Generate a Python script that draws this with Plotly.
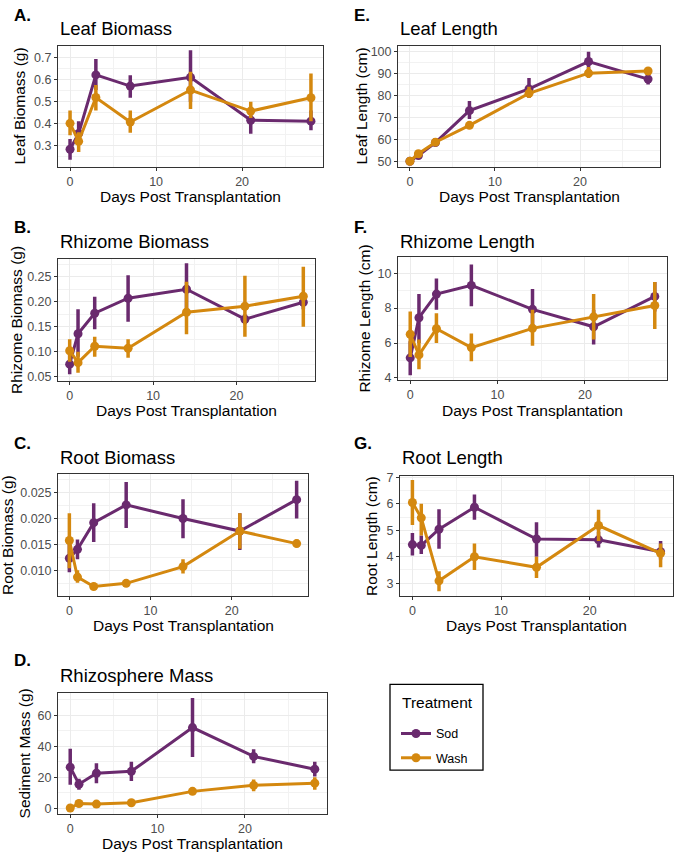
import plotly.graph_objects as go

W, H = 675, 859
FONT = "Liberation Sans, Arial, sans-serif"
SOD_COLOR = "#6a2a6e"
WASH_COLOR = "#d4880f"

days = [0, 1, 3, 7, 14, 21, 28]

# A. Leaf Biomass (g)
leafmass_sod = [0.283, 0.355, 0.622, 0.571, 0.611, 0.415, 0.411]
leafmass_sod_lo = [0.235, 0.31, 0.553, 0.518, 0.50, 0.354, 0.37]
leafmass_sod_hi = [0.33, 0.41, 0.695, 0.62, 0.735, 0.46, 0.46]
leafmass_wash = [0.401, 0.319, 0.519, 0.407, 0.553, 0.457, 0.518]
leafmass_wash_lo = [0.347, 0.27, 0.46, 0.358, 0.466, 0.425, 0.41]
leafmass_wash_hi = [0.46, 0.36, 0.576, 0.46, 0.636, 0.5, 0.628]

# B. Rhizome Biomass (g)
rhizmass_sod = [0.075, 0.136, 0.177, 0.207, 0.225, 0.165, 0.199]
rhizmass_sod_lo = [0.055, 0.09, 0.145, 0.16, 0.175, 0.155, 0.185]
rhizmass_sod_hi = [0.095, 0.185, 0.21, 0.253, 0.277, 0.175, 0.213]
rhizmass_wash = [0.102, 0.078, 0.111, 0.107, 0.179, 0.191, 0.211]
rhizmass_wash_lo = [0.08, 0.058, 0.09, 0.088, 0.135, 0.13, 0.15]
rhizmass_wash_hi = [0.125, 0.1, 0.13, 0.125, 0.24, 0.252, 0.27]

# C. Root Biomass (g)
rootmass_sod = [0.0124, 0.0141, 0.0192, 0.0226, 0.0200, 0.0176, 0.0236]
rootmass_sod_lo = [0.0097, 0.0122, 0.0155, 0.0182, 0.0162, 0.0140, 0.0200]
rootmass_sod_hi = [0.0151, 0.0160, 0.0229, 0.0270, 0.0237, 0.0210, 0.0272]
rootmass_wash = [0.0158, 0.0088, 0.0070, 0.0076, 0.0108, 0.0176, 0.0152]
rootmass_wash_lo = [0.0105, 0.0077, 0.0065, 0.0070, 0.0095, 0.0142, 0.0145]
rootmass_wash_hi = [0.0210, 0.0101, 0.0075, 0.0082, 0.0122, 0.0210, 0.0160]

# D. Rhizosphere / Sediment Mass (g)
sedmass_sod = [26.5, 15.5, 22.6, 23.8, 52.0, 33.4, 25.2]
sedmass_sod_lo = [15.2, 12.0, 16.2, 17.5, 33.0, 29.0, 20.5]
sedmass_sod_hi = [38.3, 19.0, 29.0, 30.0, 71.0, 38.0, 30.0]
sedmass_wash = [0.2, 3.1, 2.7, 3.6, 10.9, 14.8, 16.2]
sedmass_wash_lo = [0.0, 2.3, 2.0, 2.8, 9.5, 11.0, 12.0]
sedmass_wash_hi = [0.4, 3.9, 3.4, 4.4, 12.2, 18.5, 20.0]

# E. Leaf Length (cm)
leaflen_sod = [50.0, 52.6, 58.5, 73.1, 83.0, 95.5, 87.5]
leaflen_sod_lo = [49.5, 51.5, 57.5, 69.3, 79.0, 91.0, 85.0]
leaflen_sod_hi = [50.5, 53.7, 59.5, 77.5, 88.0, 100.0, 90.0]
leaflen_wash = [50.0, 53.4, 58.7, 66.4, 81.0, 90.2, 91.2]
leaflen_wash_lo = [49.6, 52.6, 57.9, 65.6, 79.0, 88.0, 89.5]
leaflen_wash_hi = [50.4, 54.2, 59.5, 67.2, 84.0, 93.0, 92.8]

# F. Rhizome Length (cm)
rhizlen_sod = [5.15, 7.45, 8.8, 9.3, 7.93, 6.93, 8.67]
rhizlen_sod_lo = [4.15, 6.0, 7.9, 8.1, 6.8, 5.92, 7.8]
rhizlen_sod_hi = [6.1, 8.8, 9.7, 10.5, 9.1, 7.9, 9.5]
rhizlen_wash = [6.5, 5.32, 6.82, 5.74, 6.84, 7.5, 8.15]
rhizlen_wash_lo = [5.2, 4.5, 6.0, 4.95, 5.85, 6.2, 6.8]
rhizlen_wash_hi = [7.8, 6.2, 7.7, 6.55, 7.9, 8.8, 9.5]

# G. Root Length (cm)
rootlen_sod = [4.46, 4.43, 5.04, 5.87, 4.67, 4.64, 4.19]
rootlen_sod_lo = [4.05, 4.1, 4.3, 5.4, 4.0, 4.35, 3.9]
rootlen_sod_hi = [4.9, 4.8, 5.8, 6.35, 5.3, 4.95, 4.6]
rootlen_wash = [6.05, 5.47, 3.09, 4.0, 3.6, 5.18, 4.13]
rootlen_wash_lo = [5.2, 4.8, 2.7, 3.5, 3.2, 4.6, 3.6]
rootlen_wash_hi = [6.9, 6.0, 3.45, 4.5, 4.0, 5.78, 4.5]

x_ticks = [0, 10, 20]
x_minor = [5, 15, 25]
x_title = "Days Post Transplantation"
legend_title = "Treatment"
group_names = ["Sod", "Wash"]


def px(x):
    return x / W


def py(y):
    return 1 - y / H


panels = [
    dict(letter="A.", title="Leaf Biomass", ytitle="Leaf Biomass (g)",
         sod=(leafmass_sod, leafmass_sod_lo, leafmass_sod_hi),
         wash=(leafmass_wash, leafmass_wash_lo, leafmass_wash_hi),
         box=(58, 323, 41, 163), yr=[0.203, 0.752],
         yt=[0.3, 0.4, 0.5, 0.6, 0.7], ym=[0.25, 0.35, 0.45, 0.55, 0.65, 0.75],
         fmt=".1f", ytx=20, letter_pos=(12, 10), title_y=23, xt_y=193),
    dict(letter="B.", title="Rhizome Biomass", ytitle="Rhizome Biomass (g)",
         sod=(rhizmass_sod, rhizmass_sod_lo, rhizmass_sod_hi),
         wash=(rhizmass_wash, rhizmass_wash_lo, rhizmass_wash_hi),
         box=(58, 315, 257, 380), yr=[0.042, 0.2846],
         yt=[0.05, 0.10, 0.15, 0.20, 0.25], ym=[0.075, 0.125, 0.175, 0.225, 0.275],
         fmt=".2f", ytx=16, letter_pos=(12, 225), title_y=239, xt_y=410),
    dict(letter="C.", title="Root Biomass", ytitle="Root Biomass (g)",
         sod=(rootmass_sod, rootmass_sod_lo, rootmass_sod_hi),
         wash=(rootmass_wash, rootmass_wash_lo, rootmass_wash_hi),
         box=(58, 308, 475, 598), yr=[0.00525, 0.02844],
         yt=[0.010, 0.015, 0.020, 0.025], ym=[0.0075, 0.0125, 0.0175, 0.0225, 0.0275],
         fmt=".3f", ytx=7, letter_pos=(12, 444), title_y=458, xt_y=628),
    dict(letter="D.", title="Rhizosphere Mass", ytitle="Sediment Mass (g)",
         sod=(sedmass_sod, sedmass_sod_lo, sedmass_sod_hi),
         wash=(sedmass_wash, sedmass_wash_lo, sedmass_wash_hi),
         box=(58, 327, 697, 819), yr=[-3.4, 74.1],
         yt=[0, 20, 40, 60], ym=[10, 30, 50, 70],
         fmt="d", ytx=24, letter_pos=(12, 664), title_y=679, xt_y=849),
    dict(letter="E.", title="Leaf Length", ytitle="Leaf Length (cm)",
         sod=(leaflen_sod, leaflen_sod_lo, leaflen_sod_hi),
         wash=(leaflen_wash, leaflen_wash_lo, leaflen_wash_hi),
         box=(398, 660, 41, 163), yr=[47.5, 102.4],
         yt=[50, 60, 70, 80, 90, 100], ym=[55, 65, 75, 85, 95],
         fmt="d", ytx=362, letter_pos=(352, 10), title_y=23, xt_y=193),
    dict(letter="F.", title="Rhizome Length", ytitle="Rhizome Length (cm)",
         sod=(rhizlen_sod, rhizlen_sod_lo, rhizlen_sod_hi),
         wash=(rhizlen_wash, rhizlen_wash_lo, rhizlen_wash_hi),
         box=(398, 667, 255, 379), yr=[3.9, 10.9],
         yt=[4, 6, 8, 10], ym=[5, 7, 9],
         fmt="d", ytx=365, letter_pos=(352, 225), title_y=239, xt_y=410),
    dict(letter="G.", title="Root Length", ytitle="Root Length (cm)",
         sod=(rootlen_sod, rootlen_sod_lo, rootlen_sod_hi),
         wash=(rootlen_wash, rootlen_wash_lo, rootlen_wash_hi),
         box=(400, 673, 477, 598), yr=[2.53, 7.04],
         yt=[3, 4, 5, 6, 7], ym=[3.5, 4.5, 5.5, 6.5],
         fmt="d", ytx=372, letter_pos=(352, 444), title_y=458, xt_y=628),
]

fig = go.Figure()
annotations = []
GRID = "#ebebeb"
BORDER = "#333333"
TICKFONT = dict(family=FONT, size=12.5, color="#4d4d4d")

for i, p in enumerate(panels):
    k = "" if i == 0 else str(i + 1)
    xa, ya = "x" + k, "y" + k
    x0, x1, y0, y1 = p["box"]
    common = dict(showline=True, linecolor=BORDER, linewidth=1, mirror=True,
                  ticks="outside", ticklen=3, tickcolor=BORDER, tickwidth=1,
                  showgrid=True, gridcolor=GRID, gridwidth=1, zeroline=False,
                  tickfont=TICKFONT)
    fig.layout["xaxis" + k] = dict(
        domain=[px(x0), px(x1)], anchor=ya, range=[-1.4, 29.4],
        tickmode="array", tickvals=x_ticks,
        minor=dict(tickvals=x_minor, showgrid=True, gridcolor="#f2f2f2", gridwidth=0.6, ticks=""),
        **common)
    ydict = dict(
        domain=[py(y1), py(y0)], anchor=xa, range=p["yr"],
        tickmode="array", tickvals=p["yt"],
        minor=dict(tickvals=p["ym"], showgrid=True, gridcolor="#f2f2f2", gridwidth=0.6, ticks=""),
        **common)
    if p["fmt"] != "d":
        ydict["tickformat"] = p["fmt"]
    fig.layout["yaxis" + k] = ydict

    for name, color, (m, lo, hi) in [(group_names[0], SOD_COLOR, p["sod"]),
                                      (group_names[1], WASH_COLOR, p["wash"])]:
        fig.add_trace(go.Scatter(
            x=days, y=m, xaxis=xa, yaxis=ya, mode="lines+markers", name=name,
            legendgroup=name, showlegend=(i == 0),
            line=dict(color=color, width=3),
            marker=dict(color=color, size=9),
            error_y=dict(type="data", symmetric=False,
                         array=[h - v for h, v in zip(hi, m)],
                         arrayminus=[v - l for v, l in zip(m, lo)],
                         color=color, thickness=3.5, width=0),
        ))

    lx, ly = p["letter_pos"]
    annotations.append(dict(text="<b>" + p["letter"] + "</b>", x=px(lx), y=py(ly),
                            xref="paper", yref="paper", xanchor="left", yanchor="middle",
                            showarrow=False, font=dict(family=FONT, size=17, color="black")))
    annotations.append(dict(text=p["title"], x=px(x0), y=py(p["title_y"]),
                            xref="paper", yref="paper", xanchor="left", yanchor="middle",
                            showarrow=False, font=dict(family=FONT, size=18.5, color="black")))
    annotations.append(dict(text=x_title, x=px((x0 + x1) / 2), y=py(p["xt_y"]),
                            xref="paper", yref="paper", xanchor="center", yanchor="middle",
                            showarrow=False, font=dict(family=FONT, size=15.5, color="black")))
    annotations.append(dict(text=p["ytitle"], x=px(p["ytx"]), y=py((y0 + y1) / 2),
                            xref="paper", yref="paper", xanchor="center", yanchor="middle",
                            textangle=-90, showarrow=False,
                            font=dict(family=FONT, size=15.5, color="black")))

# legend title and box (ggplot-style legend key box)
annotations.append(dict(text=legend_title, x=px(400), y=py(706),
                        xref="paper", yref="paper", xanchor="left", yanchor="middle",
                        showarrow=False, font=dict(family=FONT, size=15.5, color="black")))

fig.update_layout(
    width=W, height=H, margin=dict(l=0, r=0, t=0, b=0),
    paper_bgcolor="white", plot_bgcolor="white",
    font=dict(family=FONT, color="black"),
    annotations=annotations,
    shapes=[dict(type="rect", xref="paper", yref="paper",
                 x0=px(390), x1=px(483), y0=py(775), y1=py(688),
                 line=dict(color="black", width=1.3), fillcolor="rgba(0,0,0,0)")],
    showlegend=True,
    legend=dict(x=px(396), y=py(723), xanchor="left", yanchor="top",
                borderwidth=0, bgcolor="rgba(0,0,0,0)",
                font=dict(family=FONT, size=12.5, color="black"),
                itemwidth=30, tracegroupgap=5),
)

fig.write_html("out.html", config={"displayModeBar": False},
               post_script="document.body.style.margin='0';document.body.style.overflow='hidden';")
